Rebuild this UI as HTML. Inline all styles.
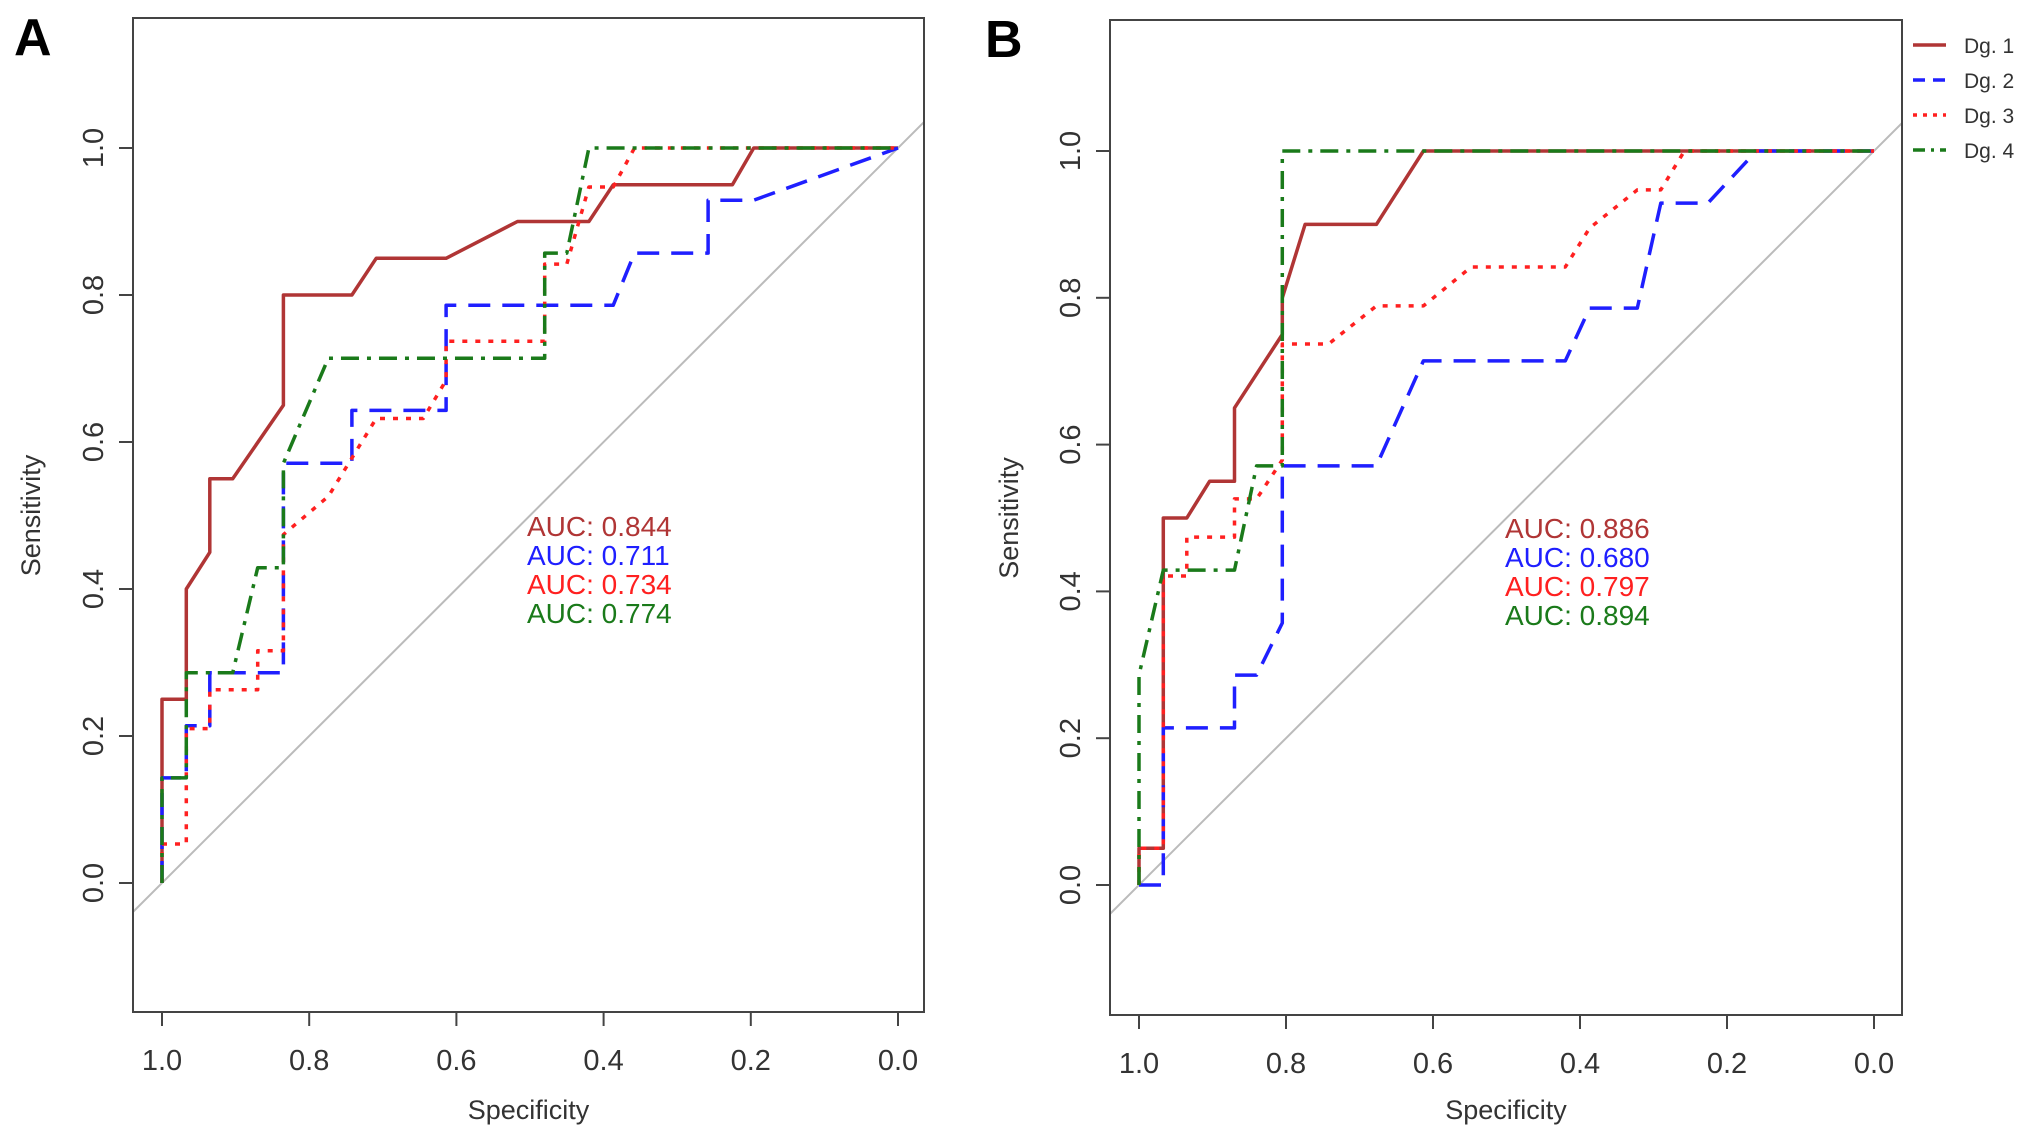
<!DOCTYPE html>
<html><head><meta charset="utf-8"><style>
html,body{margin:0;padding:0;background:#fff;}
svg{display:block;font-family:"Liberation Sans",Arial,sans-serif;}
</style></head><body>
<svg id="chart" width="2031" height="1142" viewBox="0 0 2031 1142">
<text x="14" y="55" font-size="52" font-weight="bold">A</text>
<text x="985" y="57" font-size="52" font-weight="bold">B</text>
</svg>
<script>
// Panel A data (specificity, sensitivity)
const aDg1Spec=[1,1,0.967,0.967,0.935,0.935,0.904,0.835,0.835,0.742,0.709,0.614,0.517,0.42,0.387,0.225,0.196,0];
const aDg1Sens=[0,0.25,0.25,0.40,0.45,0.55,0.55,0.65,0.80,0.80,0.85,0.85,0.90,0.90,0.95,0.95,1,1];
const aDg2Spec=[1,1,0.967,0.967,0.935,0.935,0.835,0.835,0.742,0.742,0.614,0.614,0.387,0.358,0.258,0.258,0.196,0];
const aDg2Sens=[0,0.143,0.143,0.214,0.214,0.286,0.286,0.571,0.571,0.643,0.643,0.786,0.786,0.857,0.857,0.929,0.929,1];
const aDg3Spec=[1,1,0.967,0.967,0.935,0.935,0.87,0.87,0.835,0.835,0.774,0.709,0.645,0.614,0.614,0.48,0.48,0.45,0.42,0.387,0.358,0];
const aDg3Sens=[0,0.053,0.053,0.21,0.21,0.263,0.263,0.316,0.316,0.474,0.526,0.632,0.632,0.684,0.737,0.737,0.842,0.842,0.947,0.947,1,1];
const aDg4Spec=[1,1,0.967,0.967,0.904,0.87,0.835,0.835,0.774,0.48,0.48,0.45,0.42,0];
const aDg4Sens=[0,0.143,0.143,0.286,0.286,0.429,0.429,0.571,0.714,0.714,0.857,0.857,1,1];
const aAuc=["0.844","0.711","0.734","0.774"];
// Panel B data
const bDg1Spec=[1,1,0.967,0.967,0.935,0.904,0.87,0.87,0.805,0.805,0.774,0.677,0.613,0];
const bDg1Sens=[0,0.05,0.05,0.5,0.5,0.55,0.55,0.65,0.75,0.80,0.90,0.90,1,1];
const bDg2Spec=[1,0.967,0.967,0.87,0.87,0.84,0.805,0.805,0.677,0.613,0.42,0.387,0.322,0.29,0.226,0.16,0];
const bDg2Sens=[0,0,0.214,0.214,0.286,0.286,0.357,0.571,0.571,0.714,0.714,0.786,0.786,0.929,0.929,1,1];
const bDg3Spec=[1,1,0.967,0.967,0.935,0.935,0.87,0.87,0.84,0.805,0.805,0.742,0.677,0.613,0.548,0.42,0.387,0.322,0.29,0.258,0];
const bDg3Sens=[0,0.05,0.05,0.421,0.421,0.474,0.474,0.526,0.526,0.579,0.737,0.737,0.789,0.789,0.842,0.842,0.895,0.947,0.947,1,1];
const bDg4Spec=[1,1,0.967,0.87,0.84,0.805,0.805,0];
const bDg4Sens=[0,0.286,0.429,0.429,0.571,0.571,1,1];
const bAuc=["0.886","0.680","0.797","0.894"];
const ticks=[1.0,0.8,0.6,0.4,0.2,0.0];
const legendLabels=["Dg. 1","Dg. 2","Dg. 3","Dg. 4"];

const colors=["#b03535","#1f1fff","#ff2020","#1a7a1a"];
const dashes=["","22,12","5,8","18,8,4,8"];
const NS="http://www.w3.org/2000/svg";
const svg=document.getElementById('chart');
function mk(t,a,p){const e=document.createElementNS(NS,t);for(const k in a)e.setAttribute(k,a[k]);(p||svg).appendChild(e);return e;}

function panel(id,box,x1,x0,y1,y0,series,auc,aucX,aucY,sensX){
  const g=mk('g',{});
  
  
  const sx=v=>x0+(x1-x0)*v, sy=v=>y0+(y1-y0)*v;
  const cid='clip'+id;
  const cp=mk('clipPath',{id:cid},g);
  mk('rect',{x:box[0],y:box[1],width:box[2]-box[0],height:box[3]-box[1]},cp);
  const dl=mk('line',{x1:sx(1+0.3),y1:sy(-0.3),x2:sx(-0.3),y2:sy(1.3),stroke:'#bbb','stroke-width':2,'clip-path':'url(#'+cid+')'},g);
  
  
  series.forEach((s,i)=>{
    const d=s[0].map((v,j)=>(j?'L':'M')+sx(v).toFixed(1)+','+sy(s[1][j]).toFixed(1)).join(' ');
    const p=mk('path',{d:d,fill:'none',stroke:colors[i],'stroke-width':3.5,'stroke-dasharray':dashes[i],'stroke-linejoin':'round'},g);
    
    
  });
  const r=mk('rect',{x:box[0],y:box[1],width:box[2]-box[0],height:box[3]-box[1],fill:'none',stroke:'#444','stroke-width':2},g);
  
  
  ticks.forEach(t=>{
    mk('line',{x1:sx(t),y1:box[3],x2:sx(t),y2:box[3]+14,stroke:'#444','stroke-width':2},g);
    const tx=mk('text',{x:sx(t),y:box[3]+58,'font-size':29,'text-anchor':'middle',fill:'#333'},g);
    tx.textContent=t.toFixed(1);
    
    
    mk('line',{x1:box[0],y1:sy(t),x2:box[0]-14,y2:sy(t),stroke:'#444','stroke-width':2},g);
    const ty=mk('text',{x:0,y:0,'font-size':29,'text-anchor':'middle',fill:'#333',transform:`translate(${box[0]-30},${sy(t)}) rotate(-90)`},g);
    ty.textContent=t.toFixed(1);
    
    
  });
  const xt=mk('text',{x:(box[0]+box[2])/2,y:1119,'font-size':27,'text-anchor':'middle',fill:'#333'},g);
  xt.textContent='Specificity';
  
  
  const yt=mk('text',{x:0,y:0,'font-size':27,'text-anchor':'middle',fill:'#333',transform:`translate(${sensX},${(y0+y1)/2}) rotate(-90)`},g);
  yt.textContent='Sensitivity';
  
  
  auc.forEach((a,i)=>{
    const t=mk('text',{x:aucX,y:aucY+i*29,'font-size':28,fill:colors[i]},g);
    t.textContent='AUC: '+a;
    
    
  });
}
panel('a',[133,18,924,1012],162,898,148,883,
 [[aDg1Spec,aDg1Sens],[aDg2Spec,aDg2Sens],[aDg3Spec,aDg3Sens],[aDg4Spec,aDg4Sens]],aAuc,527,536,40);
panel('b',[1110,20,1902,1015],1139,1874,151,885,
 [[bDg1Spec,bDg1Sens],[bDg2Spec,bDg2Sens],[bDg3Spec,bDg3Sens],[bDg4Spec,bDg4Sens]],bAuc,1505,538,1018);
legendLabels.forEach((l,i)=>{
  const y=45+i*35;
  const ln=mk('line',{x1:1913,y1:y,x2:1946,y2:y,stroke:colors[i],'stroke-width':3.5,'stroke-dasharray':i==0?'':(i==1?'12,8':(i==2?'4,6':'12,6,3,6'))});
  
  
  const t=mk('text',{x:1964,y:y+8,'font-size':21,fill:'#333'});
  t.textContent=l;
  
  
});
</script>
</body></html>
